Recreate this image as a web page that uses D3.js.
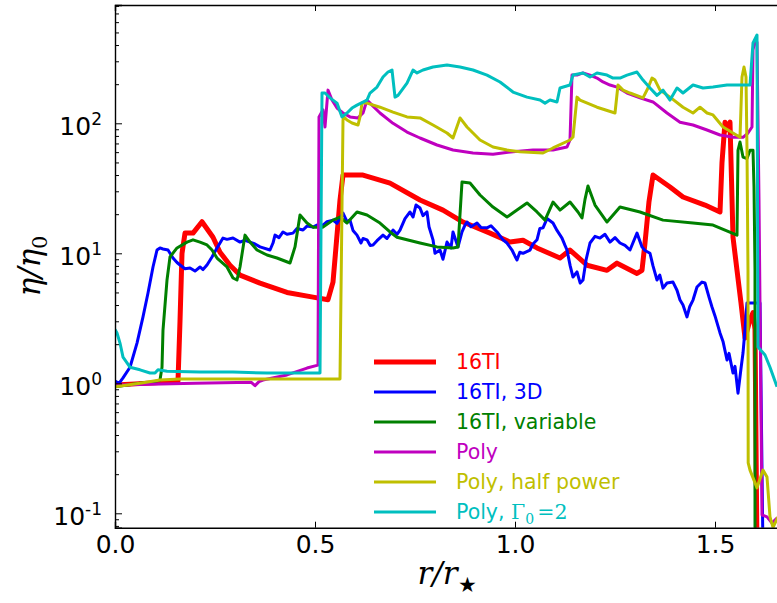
<!DOCTYPE html>
<html>
<head>
<meta charset="utf-8">
<script src="https://cdn.jsdelivr.net/npm/d3@7"></script>
<style>
  body { margin: 0; background: #fff; }
  text { font-family: "DejaVu Sans", sans-serif; }
</style>
</head>
<body>
<script>
// r / r_star and eta / eta0 for each run

const r16TI = [0, 0.05, 0.1, 0.1575, 0.1625, 0.1675, 0.175, 0.195, 0.2175, 0.245, 0.2625, 0.2875, 0.3125, 0.3625, 0.43, 0.495, 0.5325, 0.545, 0.5625, 0.57, 0.62, 0.6875, 0.7625, 0.82, 0.87, 0.9375, 0.9875, 1.02, 1.055, 1.1125, 1.1375, 1.18, 1.23, 1.255, 1.305, 1.3175, 1.325, 1.335, 1.345, 1.3875, 1.42, 1.475, 1.5125, 1.5175, 1.525, 1.53, 1.5375, 1.545, 1.555, 1.565, 1.575, 1.5875, 1.595, 1.6, 1.605];
const eta16TI = [0.97, 0.99, 1.01, 1.04, 3.0, 10, 14.3, 14.3, 17.5, 13.3, 10.2, 8.1, 6.8, 5.9, 5.0, 4.6, 4.4, 6.0, 25.7, 40, 40, 34.7, 25.7, 21.5, 17.4, 14.3, 12.2, 12.6, 11.0, 9.2, 10.6, 8.1, 7.4, 8.4, 7.0, 7.4, 12, 25, 40, 32.4, 27.1, 23.5, 20.8, 50, 102, 89, 102, 13.3, 7.4, 4.15, 2.23, 3.07, 3.5, 2.6, 0.05];

// the 3D run is noisy: spikes kept where they show in the figure
const r3D = [0, 0.01, 0.02, 0.0375, 0.055, 0.07, 0.0825, 0.095, 0.105, 0.1125, 0.12, 0.1325, 0.145, 0.155, 0.1625, 0.175, 0.1875, 0.2, 0.2125, 0.22, 0.23, 0.2425, 0.255, 0.27, 0.28, 0.295, 0.3125, 0.325, 0.3375, 0.35, 0.3625, 0.3875, 0.395, 0.4, 0.41, 0.42, 0.43, 0.445, 0.455, 0.47, 0.48, 0.495, 0.505, 0.52, 0.53, 0.545, 0.555, 0.57, 0.58, 0.5875, 0.595, 0.605, 0.615, 0.62, 0.63, 0.638, 0.645, 0.655, 0.67, 0.68, 0.695, 0.705, 0.7125, 0.725, 0.7375, 0.745, 0.7525, 0.7625, 0.77, 0.78, 0.785, 0.795, 0.8, 0.8125, 0.82, 0.83, 0.84, 0.845, 0.8575, 0.8675, 0.875, 0.88, 0.89, 0.905, 0.915, 0.93, 0.94, 0.955, 0.97, 0.98, 0.9925, 1.0, 1.005, 1.012, 1.02, 1.0375, 1.045, 1.055, 1.062, 1.07, 1.08, 1.095, 1.105, 1.1175, 1.125, 1.13, 1.138, 1.145, 1.155, 1.163, 1.17, 1.178, 1.1875, 1.2, 1.2125, 1.225, 1.2375, 1.25, 1.2625, 1.275, 1.2875, 1.297, 1.305, 1.3175, 1.325, 1.3375, 1.345, 1.355, 1.362, 1.37, 1.38, 1.395, 1.405, 1.4125, 1.42, 1.43, 1.437, 1.445, 1.455, 1.4675, 1.475, 1.485, 1.4925, 1.5, 1.5125, 1.52, 1.53, 1.535, 1.545, 1.55, 1.5575, 1.565, 1.57, 1.575, 1.58, 1.6125, 1.62];
const eta3D = [1.04, 1.0, 1.10, 1.33, 2.04, 3.24, 4.95, 7.85, 10.6, 11.0, 10.8, 10.6, 9.2, 8.5, 8.13, 7.6, 7.71, 7.3, 7.85, 7.5, 8.13, 9.37, 11.0, 13.1, 12.8, 13.1, 12.2, 12.6, 12.2, 11.8, 11.2, 10.6, 12.0, 13.8, 13.2, 14.6, 14.0, 14.3, 15.5, 15.1, 16.2, 15.9, 16.5, 16.5, 17.5, 18.0, 17.0, 20.4, 17.5, 18.0, 15.0, 13.8, 12.0, 13.0, 12.7, 11.5, 11.6, 12.5, 13.8, 13.0, 15.1, 14.0, 15.1, 18.5, 20.8, 19.0, 23.5, 22.3, 19.5, 20.8, 16.0, 12.7, 10.0, 10.6, 9.0, 12.2, 11.0, 14.6, 11.2, 14.6, 16.5, 17.4, 16.0, 17.1, 15.8, 15.7, 16.3, 14.6, 12.7, 12.0, 10.6, 9.5, 8.88, 10.2, 10.0, 10.6, 11.8, 12.7, 15.5, 15.7, 18.5, 17.1, 15.0, 13.1, 11.5, 10.6, 8.0, 6.57, 7.2, 5.9, 6.23, 9.0, 12.0, 13.5, 13.1, 14.0, 12.2, 13.2, 12.0, 11.5, 10.6, 12.5, 14.3, 11.2, 10.5, 10.0, 8.0, 6.23, 6.8, 5.4, 5.91, 6.01, 5.2, 4.37, 4.0, 3.24, 3.9, 4.37, 5.5, 6.01, 5.91, 4.6, 3.86, 3.3, 2.44, 2.1, 1.51, 1.7, 1.2, 1.35, 0.84, 1.3, 1.71, 2.6, 4.15, 4.15, 0.05];

const rVar = [0, 0.0625, 0.095, 0.1125, 0.1175, 0.12, 0.13, 0.1375, 0.155, 0.18, 0.195, 0.2125, 0.23, 0.2425, 0.255, 0.28, 0.295, 0.305, 0.3125, 0.325, 0.3375, 0.355, 0.38, 0.405, 0.4375, 0.45, 0.4625, 0.48, 0.495, 0.52, 0.545, 0.5625, 0.58, 0.605, 0.63, 0.6625, 0.6875, 0.705, 0.73, 0.7625, 0.805, 0.845, 0.8575, 0.8675, 0.8875, 0.9125, 0.945, 0.98, 1.005, 1.03, 1.055, 1.075, 1.095, 1.1125, 1.1375, 1.1575, 1.1675, 1.175, 1.1825, 1.2, 1.23, 1.2625, 1.3125, 1.37, 1.445, 1.495, 1.555, 1.5575, 1.5625, 1.57, 1.58, 1.5875, 1.595, 1.5975, 1.6, 1.6];
const etaVar = [0.94, 1.0, 1.02, 1.06, 1.33, 2.57, 6.23, 9.37, 11.0, 12.2, 12.7, 12.2, 11.6, 10.6, 9.2, 7.85, 6.46, 6.23, 7.85, 13.8, 12.2, 10.6, 9.7, 9.2, 8.42, 11.2, 19.7, 17.1, 15.9, 15.9, 18.0, 19.0, 17.1, 20.8, 19.7, 17.1, 14.6, 13.3, 12.7, 12.0, 11.2, 11.0, 11.2, 35.3, 34.7, 28.1, 22.7, 19.0, 21.5, 24.4, 20.8, 18.0, 24.8, 21.5, 24.8, 20.8, 18.7, 26, 33, 23.5, 17.4, 22.7, 20.8, 18.0, 17.1, 16.5, 13.8, 62, 71.8, 55, 53.6, 62, 62, 32.4, 7.44, 0.05];

const rPoly = [0, 0.2, 0.34, 0.35, 0.36, 0.37, 0.43, 0.48, 0.5075, 0.51, 0.52, 0.525, 0.5325, 0.5425, 0.555, 0.57, 0.5875, 0.6075, 0.62, 0.63, 0.6425, 0.6625, 0.695, 0.73, 0.7625, 0.805, 0.845, 0.895, 0.945, 0.995, 1.045, 1.095, 1.13, 1.1375, 1.1425, 1.155, 1.17, 1.1875, 1.205, 1.22, 1.2375, 1.255, 1.28, 1.3125, 1.345, 1.38, 1.4125, 1.445, 1.48, 1.5125, 1.545, 1.57, 1.5825, 1.5925, 1.595, 1.6, 1.605, 1.61, 1.6175, 1.63, 1.6425, 1.655];
const etaPoly = [0.97, 1.0, 1.02, 0.96, 1.03, 1.06, 1.16, 1.31, 1.38, 112, 127, 93.7, 180, 151, 131, 120, 112, 110, 120, 151, 138, 120, 100, 85.7, 77.1, 68.1, 62.3, 59.1, 57.8, 60.5, 62.3, 62.3, 65.7, 74.4, 235, 235, 244, 235, 223, 208, 197, 190, 171, 157, 146, 120, 102, 97, 88.8, 81.3, 78, 78, 84.2, 93.7, 366, 437, 420, 25.7, 0.097, 0.094, 0.084, 0.092];

const rHalf = [0, 0.0625, 0.1125, 0.1625, 0.5625, 0.57, 0.572, 0.58, 0.5925, 0.6075, 0.6125, 0.6175, 0.63, 0.6625, 0.695, 0.73, 0.7625, 0.795, 0.83, 0.845, 0.8625, 0.88, 0.9125, 0.945, 0.98, 1.0125, 1.07, 1.095, 1.1375, 1.145, 1.155, 1.1625, 1.205, 1.25, 1.2575, 1.27, 1.2875, 1.32, 1.3325, 1.3425, 1.35, 1.3625, 1.3875, 1.42, 1.445, 1.4625, 1.48, 1.495, 1.52, 1.545, 1.5625, 1.5675, 1.5725, 1.5775, 1.58, 1.5825, 1.583, 1.5875, 1.605, 1.62, 1.63, 1.6375, 1.645, 1.6575];
const etaHalf = [0.94, 1.0, 1.06, 1.08, 1.08, 106, 112, 106, 100.5, 97, 112, 143, 143, 133, 122, 112, 110, 97, 84.2, 77.1, 110, 93.7, 74.4, 65.7, 62.3, 60.5, 59.1, 64.6, 74.4, 78.5, 159, 151, 133, 120, 197, 180, 171, 157, 187, 223, 215, 180, 159, 133, 120, 133, 120, 116, 93.7, 84.2, 78, 227, 271, 227, 62.3, 7.4, 0.244, 0.215, 0.157, 0.215, 0.19, 0.094, 0.078, 0.094];

const rGamma = [0, 0.005, 0.0125, 0.02, 0.0375, 0.0625, 0.0875, 0.1, 0.1075, 0.13, 0.2125, 0.295, 0.38, 0.4625, 0.5125, 0.5175, 0.525, 0.5375, 0.555, 0.5675, 0.58, 0.5925, 0.605, 0.63, 0.6375, 0.655, 0.67, 0.6825, 0.6925, 0.7, 0.7075, 0.73, 0.745, 0.755, 0.77, 0.795, 0.83, 0.8625, 0.895, 0.93, 0.9625, 0.995, 1.03, 1.0625, 1.075, 1.0875, 1.105, 1.1125, 1.1375, 1.145, 1.17, 1.1875, 1.205, 1.23, 1.245, 1.2625, 1.28, 1.305, 1.32, 1.3375, 1.355, 1.37, 1.3875, 1.405, 1.42, 1.445, 1.47, 1.495, 1.53, 1.5625, 1.5875, 1.595, 1.605, 1.6075, 1.625, 1.6375, 1.655];
const etaGamma = [2.6, 2.44, 2.04, 1.59, 1.33, 1.27, 1.2, 1.2, 1.27, 1.24, 1.22, 1.22, 1.2, 1.2, 1.2, 171, 171, 157, 143, 112, 120, 131, 138, 151, 171, 190, 227, 248, 257, 159, 164, 204, 257, 244, 257, 271, 281, 271, 257, 235, 208, 174, 159, 151, 143, 151, 146, 187, 197, 235, 244, 227, 244, 235, 223, 223, 235, 248, 215, 187, 164, 180, 151, 187, 171, 197, 187, 190, 197, 197, 197, 415, 478, 1.9, 1.65, 1.33, 0.94];

const labels = ["16TI", "16TI, 3D", "16TI, variable", "Poly", "Poly, half power", "Poly, \u0393\u2080=2"];
const colors = ["#ff0000", "#0000ff", "#008000", "#bf00bf", "#bfbf00", "#00bfbf"];
const widths = [5, 3, 3, 3, 3, 3];

const xTicks = [0, 0.5, 1.0, 1.5];
const yTicks = [0.1, 1, 10, 100];

// note: "top" is taken by window.top, so plot edges get their own names
var w = 777,
    h = 603,
    plotLeft = 115,
    plotRight = 780,
    plotTop = 5,
    plotBottom = 527.7;

var svg = d3.select("body").append("svg")
    .attr("width", w)
    .attr("height", h);

var x = d3.scaleLinear().domain([0, 1.6625]).range([plotLeft, plotRight]);
var y = d3.scaleLog().domain([0.0775, 813]).range([plotBottom, plotTop]);

svg.append("clipPath").attr("id", "plot")
  .append("rect")
    .attr("x", plotLeft).attr("y", plotTop)
    .attr("width", plotRight - plotLeft).attr("height", plotBottom - plotTop);

const series = [
    [r16TI, eta16TI], [r3D, eta3D], [rVar, etaVar],
    [rPoly, etaPoly], [rHalf, etaHalf], [rGamma, etaGamma]
].map((s) => s[0].map((r, i) => [r, s[1][i]]));

var line = d3.line()
    .x((d) => x(d[0]))
    .y((d) => y(d[1]));

svg.append("g")
    .attr("clip-path", "url(#plot)")
  .selectAll("path")
  .data(series)
  .enter().append("path")
    .attr("d", line)
    .attr("fill", "none")
    .attr("stroke", (d, i) => colors[i])
    .attr("stroke-width", (d, i) => widths[i])
    .attr("stroke-linejoin", "round")
    .attr("stroke-linecap", "butt");

// minor log ticks
const minor = [];
for (let e = -2; e <= 2; e++) {
    for (let k = 2; k <= 9; k++) {
        const v = k * Math.pow(10, e);
        if (v > 0.0775 && v < 813) minor.push(v);
    }
}

svg.append("g")
    .attr("transform", "translate(" + plotLeft + ",0)")
    .call(d3.axisLeft(y).tickValues(minor).tickSize(-4).tickFormat(() => ""))
    .call((g) => g.select(".domain").remove());

var yAxis = svg.append("g")
    .attr("transform", "translate(" + plotLeft + ",0)")
    .call(d3.axisLeft(y).tickValues(yTicks).tickSize(-7).tickPadding(13).tickFormat(() => ""));

yAxis.selectAll(".tick text")
    .attr("dy", "0.45em")
    .attr("font-size", 25)
    .attr("fill", "#000")
    .each(function(d) {
        var t = d3.select(this);
        t.append("tspan").text("10");
        t.append("tspan")
            .attr("dy", "-0.62em")
            .attr("font-size", 17)
            .text(Math.round(Math.log10(d)));
    });

var xAxis = svg.append("g")
    .attr("transform", "translate(0," + plotBottom + ")")
    .call(d3.axisBottom(x).tickValues(xTicks).tickSize(-6).tickPadding(8).tickFormat(d3.format(".1f")));

xAxis.selectAll(".tick text")
    .attr("font-size", 25)
    .attr("fill", "#000");

svg.append("g")
    .attr("transform", "translate(0," + plotTop + ")")
    .call(d3.axisTop(x).tickValues(xTicks.slice(1)).tickSize(-6).tickFormat(() => ""));

svg.selectAll(".domain").attr("stroke", "#000").attr("stroke-width", 1.4);
svg.selectAll(".tick line").attr("stroke", "#000").attr("stroke-width", 1);

// axis titles
svg.append("text")
    .attr("transform", "translate(40,266) rotate(-90)")
    .attr("text-anchor", "middle")
    .style("font-family", "DejaVu Serif")
    .style("font-style", "italic")
    .attr("font-size", 31)
    .html('η/η<tspan dy="7" font-size="21" font-style="normal">0</tspan>');

svg.append("text")
    .attr("x", 447)
    .attr("y", 584)
    .attr("text-anchor", "middle")
    .style("font-family", "DejaVu Serif")
    .style("font-style", "italic")
    .attr("font-size", 31)
    .html('r/r<tspan dy="8" font-size="21" font-style="normal">★</tspan>');

// legend
var legend = svg.append("g")
    .selectAll("g")
    .data(labels)
    .enter().append("g")
    .attr("transform", (d, i) => "translate(374," + (362 + i * 30) + ")");

legend.append("line")
    .attr("x1", 0).attr("x2", 62)
    .attr("stroke", (d, i) => colors[i])
    .attr("stroke-width", (d, i) => widths[i]);

legend.append("text")
    .attr("x", 82)
    .attr("y", 7)
    .attr("font-size", 20.5)
    .attr("fill", (d, i) => colors[i])
    .each(function(d, i) {
        var t = d3.select(this);
        if (i < 5) { t.text(d); return; }
        t.append("tspan").text("Poly, ");
        t.append("tspan").style("font-family", "DejaVu Serif").text("\u0393");
        t.append("tspan").style("font-family", "DejaVu Serif").attr("dy", 5).attr("font-size", 14).text("0");
        t.append("tspan").style("font-family", "DejaVu Serif").attr("dy", -5).attr("dx", 3).text("=2");
    });
</script>
</body>
</html>
